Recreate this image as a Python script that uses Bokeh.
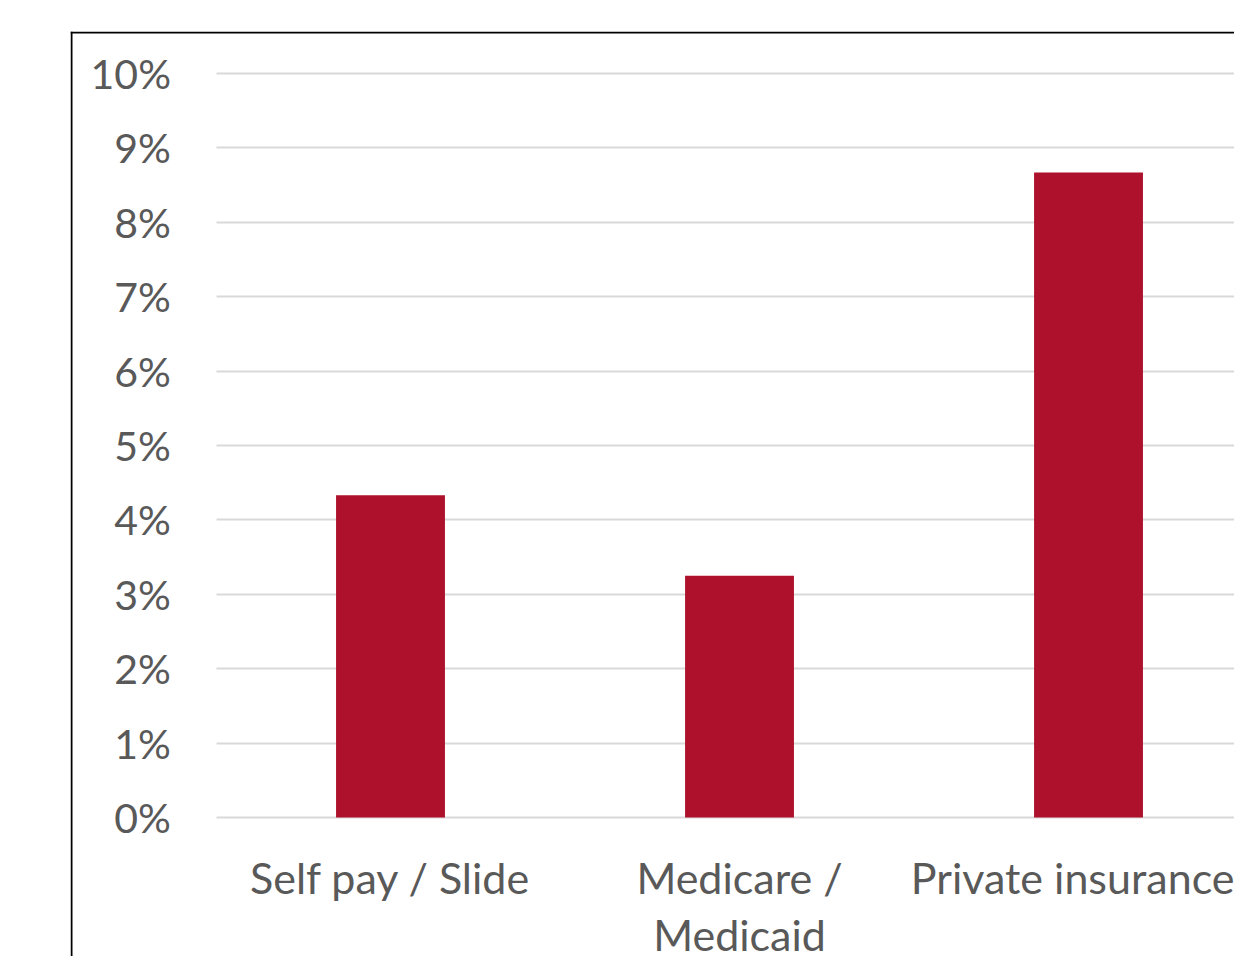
from bokeh.plotting import figure
from bokeh.models import Range1d, FixedTicker, Span, ColumnDataSource
from bokeh.embed import file_html
from bokeh.resources import INLINE

# ---- data ----
categories = ["Self pay / Slide", "Medicare /\nMedicaid", "Private insurance"]
values = [4.33, 3.25, 8.67]          # percent
y_ticks = [0, 1, 2, 3, 4, 5, 6, 7, 8, 9, 10]
y_tick_labels = ["0%", "1%", "2%", "3%", "4%", "5%", "6%", "7%", "8%", "9%", "10%"]

BAR_COLOR = "#AE112B"
TEXT_COLOR = "#595959"
GRID_COLOR = "#D9D9D9"
FONT = "Lato"

x_pos = [i + 0.5 for i in range(len(categories))]
src = ColumnDataSource(dict(x=x_pos, top=values, cat=categories))

X_START, X_END = -0.4169, 2.9183
Y_START, Y_END = -1.8683, 10.5645

p = figure(
    width=1234, height=956,
    x_range=Range1d(X_START, X_END), y_range=Range1d(Y_START, Y_END),
    output_backend="svg", toolbar_location=None,
    min_border_left=70, min_border_right=0, min_border_top=31, min_border_bottom=0,
    background_fill_color="white", border_fill_color="white",
)
p.outline_line_color = None

# grid (horizontal lines only over the plot area)
p.xgrid.visible = False
grid = p.ygrid[0]
grid.ticker = FixedTicker(ticks=y_ticks)
grid.grid_line_color = GRID_COLOR
grid.grid_line_width = 2
if "cross_bounds" in grid.properties():
    grid.cross_bounds = (0, X_END)
else:
    grid.visible = False
    p.segment(x0=0, x1=X_END, y0=y_ticks, y1=y_ticks,
              line_color=GRID_COLOR, line_width=2)

p.vbar(x="x", top="top", bottom=0, width=0.312, source=src,
       fill_color=BAR_COLOR, line_color=None)

# y axis (drawn at the left edge of the category area)
ya = p.yaxis[0]
ya.fixed_location = 0
ya.ticker = FixedTicker(ticks=y_ticks)
ya.major_label_overrides = {t: l for t, l in zip(y_ticks, y_tick_labels)}
ya.axis_line_color = None
ya.major_tick_line_color = None
ya.minor_tick_line_color = None
ya.major_tick_in = 0
ya.major_tick_out = 0
ya.major_label_standoff = 45
ya.major_label_text_font = FONT
ya.major_label_text_font_size = "41px"
ya.major_label_text_color = TEXT_COLOR

# x axis
xa = p.xaxis[0]
xa.fixed_location = 0
xa.ticker = FixedTicker(ticks=x_pos)
xa.major_label_overrides = {x: c for x, c in zip(x_pos, categories)}
xa.axis_line_color = None
xa.major_tick_line_color = None
xa.minor_tick_line_color = None
xa.major_tick_in = 0
xa.major_tick_out = 0
xa.major_label_standoff = 35
xa.major_label_text_font = FONT
xa.major_label_text_font_size = "43px"
xa.major_label_text_color = TEXT_COLOR
xa.major_label_text_line_height = 1.1

# chart border (left and top edges)
p.add_layout(Span(location=71, location_units="canvas", dimension="height",
                  line_color="black", line_width=2))
p.add_layout(Span(location=32, location_units="canvas", dimension="width",
                  line_color="black", line_width=2))

open("out.html", "w").write(file_html(p, INLINE))
